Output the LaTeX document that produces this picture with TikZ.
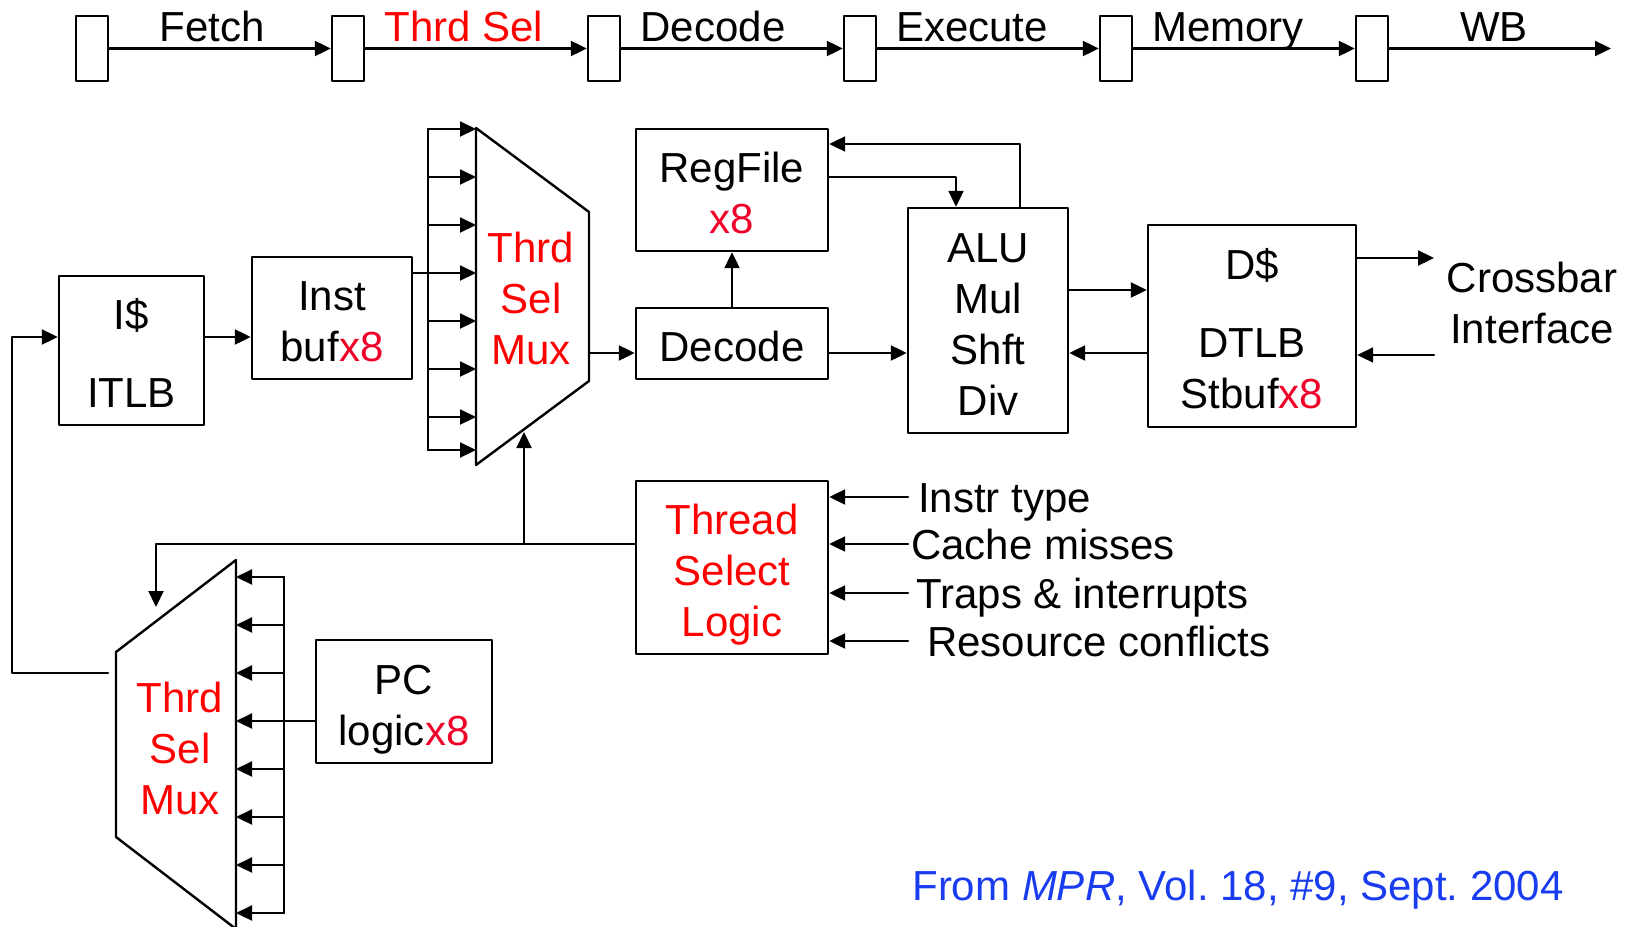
\documentclass[tikz,border=0pt]{standalone}
\usepackage{fontspec}
\setmainfont{Liberation Sans}
\usetikzlibrary{arrows.meta}
\definecolor{selred}{RGB}{255,0,0}
\definecolor{cntred}{RGB}{240,0,40}
\definecolor{srcblue}{RGB}{25,60,240}
\newcommand{\xeight}{\textcolor{cntred}{x8}}
\newcommand{\tophold}{\rule{0pt}{45pt}}
\newcommand{\bothold}{\rule[-9pt]{0pt}{9pt}}
\frenchspacing

\begin{document}
\begin{tikzpicture}[x=1pt,y=-1pt,>={Triangle[length=16pt,width=15pt]},line cap=round,line join=round,
  blk/.style={draw,line width=2.4pt,inner sep=0pt,align=center,font=\fontsize{42}{51}\selectfont},
  reg/.style={draw,line width=2.4pt,minimum width=32pt,minimum height=65pt,inner sep=0pt},
  txt/.style={inner sep=0pt,align=center,font=\fontsize{42}{51}\selectfont},
  wire/.style={line width=2.2pt},
  flow/.style={->,line width=2.2pt},
  muxline/.style={line width=2.4pt}]
\useasboundingbox (0,0) rectangle (1632,926);
% pipeline stages
\foreach \i/\x in {1/92,2/348,3/604,4/860,5/1116,6/1372}
  \node[reg] (r\i) at (\x,48.5) {};
\foreach \i/\j in {1/2,2/3,3/4,4/5,5/6}
  \draw[flow] (r\i) -- (r\j);
\coordinate (wbout) at (1611,48.5);
\draw[flow] (r6) -- (wbout);
\node[txt,anchor=base] (sfetch) at (212,41.5) {Fetch};
\node[txt,anchor=base,text=selred] (ssel) at (464,41.5) {Thrd Sel};
\node[txt,anchor=base] (sdec) at (713,41.5) {Decode};
\node[txt,anchor=base] (sexe) at (972,41.5) {Execute};
\node[txt,anchor=base] (smem) at (1228,41.5) {Memory};
\node[txt,anchor=base] (swb) at (1494,41.5) {WB};
% blocks
\node[blk,minimum width=145pt,minimum height=149pt] (ic) at (131.5,350.5) {\tophold I\$\\[27pt]ITLB\bothold};
\node[blk,minimum width=160pt,minimum height=122pt] (ib) at (332,318) {\tophold Inst\\buf\xeight\bothold};
\node[blk,minimum width=192pt,minimum height=122pt] (rf) at (732,190) {\tophold RegFile\\\xeight\bothold};
\node[blk,minimum width=192pt,minimum height=71pt] (dec) at (732,343.5) {\tophold Decode\bothold};
\node[blk,minimum width=160pt,minimum height=225pt] (alu) at (988,320.5) {\tophold ALU\\Mul\\Shft\\Div\bothold};
\node[blk,minimum width=208pt,minimum height=202pt] (dc) at (1252,326) {\tophold D\$\\[27pt]DTLB\\Stbuf\xeight\bothold};
\node[txt] (xbar) at (1532,303) {Crossbar\\Interface};
\node[blk,text=selred,minimum width=192pt,minimum height=173pt] (tsl) at (732,567.5) {\tophold Thread\\Select\\Logic\bothold};
\node[blk,minimum width=176pt,minimum height=123pt] (pc) at (404,701.5) {\tophold PC\\logic\xeight\bothold};
% fetch side mux
\coordinate (m1nw) at (476,128);
\coordinate (m1ne) at (589,212);
\coordinate (m1se) at (589,381);
\coordinate (m1sw) at (476,465);
\draw[muxline] (m1nw) -- (m1ne) -- (m1se) -- (m1sw) -- cycle;
\node[txt,text=selred] (m1) at (531,298) {Thrd\\Sel\\Mux};
\coordinate (m1out) at (589,353);
\coordinate (m1sel) at (524,432);
% pc side mux
\coordinate (m2nw) at (116,652);
\coordinate (m2ne) at (236,560);
\coordinate (m2se) at (236,929);
\coordinate (m2sw) at (116,837);
\draw[muxline] (m2nw) -- (m2ne) -- (m2se) -- (m2sw) -- cycle;
\node[txt,text=selred] (m2) at (180,748) {Thrd\\Sel\\Mux};
\coordinate (m2fb) at (116,673);
\coordinate (m2sel) at (156,607);
% fetch loop
\coordinate (fbcorner) at (12,673);
\coordinate (fbtop) at (12,337);
\draw[flow,shorten <=8pt] (m2fb) -- (fbcorner) -- (fbtop) -- (ic.west |- fbtop);
\draw[flow] (ic.east |- fbtop) -- (ib.west |- fbtop);
\coordinate (bus1) at (428,273);
\draw[wire] (ib.east |- bus1) -- (bus1);
\draw[wire] (428,129) -- (428,450);
\foreach \y in {129,177,225,273,321,369,417,450}
  \draw[flow] (428,\y) -- (476,\y);
\draw[wire] (284,577) -- (284,913);
\foreach \y in {577,625,...,913}
  \draw[flow] (284,\y) -- (236,\y);
\coordinate (bus2) at (284,721);
\draw[wire] (pc.west |- bus2) -- (bus2);
% datapath
\draw[flow] (m1out) -- (dec.west |- m1out);
\draw[flow] (dec) -- (rf);
\coordinate (rfa) at (956,177);
\draw[flow] (rf.east |- rfa) -| (alu.north -| rfa);
\coordinate (arf) at (1020,144);
\draw[flow] (alu.north -| arf) |- (rf.east |- arf);
\draw[flow] (dec.east |- m1out) -- (alu.west |- m1out);
\coordinate (ad) at (1100,290);
\draw[flow] (alu.east |- ad) -- (dc.west |- ad);
\draw[flow] (dc.west |- m1out) -- (alu.east |- m1out);
\coordinate (xout) at (1434,258);
\draw[flow] (dc.east |- xout) -- (xout);
\coordinate (xin) at (1434,355);
\draw[flow] (xin) -- (dc.east |- xin);
% thread select
\foreach \y/\xl/\lbl in {497/918/Instr type,544/911/Cache misses,593/916/Traps \& interrupts,641/927/Resource conflicts}{
  \coordinate (in\y) at (908,\y);
  \draw[flow] (in\y) -- (tsl.east |- in\y);
  \node[txt,anchor=base west] (lab\y) at (\xl,\y+15) {\lbl};
}
\coordinate (tslo) at (600,544);
\draw[flow] (tsl.west |- tslo) -| (m2sel);
\draw[flow] (m1sel |- tslo) -- (m1sel);
\node[txt,anchor=base,text=srcblue] (src) at (1238,900) {From \textit{MPR}, Vol. 18, \#9, Sept. 2004};
\end{tikzpicture}
\end{document}
